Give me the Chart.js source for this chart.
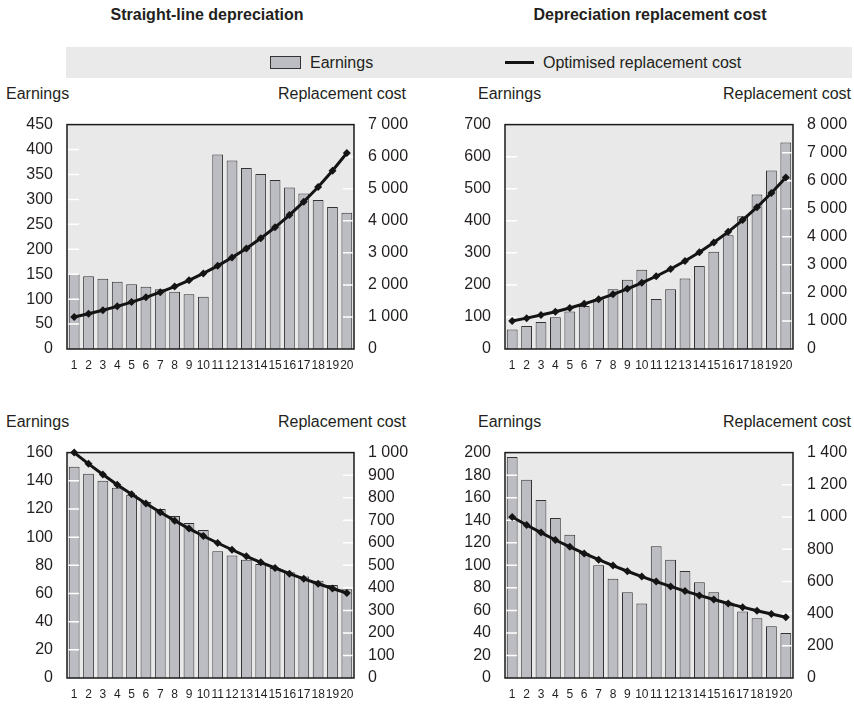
<!DOCTYPE html>
<html>
<head>
<meta charset="utf-8">
<script src="https://cdn.jsdelivr.net/npm/chart.js@4.4.0/dist/chart.umd.min.js"></script>
<style>
  body { margin:0; width:854px; height:705px; position:relative; background:#fff;
         font-family:"Liberation Sans", Arial, sans-serif; color:#231f20; overflow:hidden; }
  .abs { position:absolute; white-space:nowrap; }
  .title { font-weight:bold; font-size:16px; line-height:18px; text-align:center; top:6px; }
  .txt { font-size:16px; line-height:18px; }
  canvas { position:absolute; }
</style>
</head>
<body>
<div class="abs title" style="left:0;width:414px">Straight-line depreciation</div>
<div class="abs title" style="left:430px;width:440px">Depreciation replacement cost</div>

<div class="abs" style="left:66px;top:47px;width:786px;height:31px;background:#e9eae9"></div>
<div class="abs" style="left:270px;top:56px;width:29px;height:11px;background:#bcbdc3;border:1px solid #333"></div>
<div class="abs txt" style="left:310px;top:54px">Earnings</div>
<div class="abs" style="left:505px;top:61px;width:29px;height:3px;background:#141414"></div>
<div class="abs txt" style="left:543px;top:54px">Optimised replacement cost</div>

<div class="abs txt" style="left:6px;top:85px">Earnings</div>
<div class="abs txt" style="right:448px;top:85px">Replacement cost</div>
<div class="abs txt" style="left:478px;top:85px">Earnings</div>
<div class="abs txt" style="right:3px;top:85px">Replacement cost</div>
<div class="abs txt" style="left:6px;top:413px">Earnings</div>
<div class="abs txt" style="right:448px;top:413px">Replacement cost</div>
<div class="abs txt" style="left:478px;top:413px">Earnings</div>
<div class="abs txt" style="right:3px;top:413px">Replacement cost</div>

<canvas id="c1" width="430" height="277" style="left:0;top:101px"></canvas>
<canvas id="c2" width="424" height="277" style="left:430px;top:101px"></canvas>
<canvas id="c3" width="430" height="278" style="left:0;top:429px"></canvas>
<canvas id="c4" width="424" height="278" style="left:430px;top:429px"></canvas>

<script>
// years on the x axis
const years = ['1','2','3','4','5','6','7','8','9','10','11','12','13','14','15','16','17','18','19','20'];

// optimised replacement cost (right axis)
const costRising  = [1000, 1100, 1210, 1331, 1464, 1611, 1772, 1949, 2144, 2358, 2594, 2853, 3138, 3452, 3797, 4177, 4595, 5054, 5560, 6116];
const costFalling = [1000, 950, 903, 857, 815, 774, 735, 698, 663, 630, 599, 569, 540, 513, 488, 463, 440, 418, 397, 377];

// earnings (left axis)
const earningsSlRising   = [150, 146, 141, 135, 130, 125, 120, 115, 110, 105, 390, 378, 363, 351, 339, 324, 312, 299, 285, 273];
const earningsDrcRising  = [61, 72, 84, 99, 117, 134, 155, 186, 216, 247, 156, 186, 220, 259, 303, 355, 414, 482, 557, 644];
const earningsSlFalling  = [150, 145, 140, 135, 130, 125, 120, 115, 110, 105, 90, 87, 84, 81, 78, 75, 72, 69, 66, 63];
const earningsDrcFalling = [196, 176, 158, 142, 127, 111, 100, 88, 76, 66, 117, 105, 95, 85, 76, 67, 59, 53, 46, 40];

const FONT = '"Liberation Sans", Arial, sans-serif';
const INK = '#231f20';

function spaced(v) {
  return String(v).replace(/\B(?=(\d{3})+(?!\d))/g, ' ');
}

// plot background, white inner tick marks and the black frame
const framePlugin = {
  id: 'frame',
  beforeDatasetsDraw(chart) {
    const {ctx, chartArea: a} = chart;
    ctx.save();
    ctx.fillStyle = '#e8e9e8';
    ctx.fillRect(a.left, a.top, a.right - a.left, a.bottom - a.top);
    ctx.restore();
  },
  afterDatasetDraw(chart, args) {
    if (args.index !== 0) return;
    const {ctx, chartArea: a, scales} = chart;
    ctx.save();
    ctx.strokeStyle = '#ffffff';
    ctx.lineWidth = 1.5;
    ctx.beginPath();
    scales.y.ticks.slice(1, -1).forEach(t => {
      const y = scales.y.getPixelForValue(t.value);
      ctx.moveTo(a.left, y); ctx.lineTo(a.left + 12, y);
    });
    scales.y1.ticks.slice(1, -1).forEach(t => {
      const y = scales.y1.getPixelForValue(t.value);
      ctx.moveTo(a.right - 11, y); ctx.lineTo(a.right, y);
    });
    ctx.stroke();
    ctx.strokeStyle = '#1a1a1a';
    ctx.lineWidth = 1.5;
    ctx.strokeRect(a.left, a.top, a.right - a.left, a.bottom - a.top);
    ctx.restore();
  }
};

function makePanel(id, earnings, cost, leftMax, leftStep, rightMax, rightStep, leftW, rightW) {
  return new Chart(document.getElementById(id), {
    type: 'bar',
    data: {
      labels: years,
      datasets: [
        {
          type: 'bar',
          label: 'Earnings',
          data: earnings,
          yAxisID: 'y',
          backgroundColor: '#bcbdc3',
          borderColor: '#333333',
          borderWidth: 1,
          categoryPercentage: 1,
          barPercentage: 0.75,
          order: 1
        },
        {
          type: 'line',
          label: 'Optimised replacement cost',
          data: cost,
          yAxisID: 'y1',
          borderColor: '#141414',
          borderWidth: 3,
          pointStyle: 'rectRot',
          pointRadius: 4,
          pointBackgroundColor: '#141414',
          pointBorderWidth: 0,
          tension: 0,
          clip: false,
          order: 0
        }
      ]
    },
    options: {
      responsive: false,
      animation: false,
      layout: { padding: 0 },
      plugins: { legend: { display: false }, tooltip: { enabled: false } },
      scales: {
        x: {
          grid: { display: false, drawTicks: false },
          border: { display: false },
          ticks: { autoSkip: false, maxRotation: 0, padding: 9, color: INK, font: { family: FONT, size: 12 } },
          afterFit: s => { s.height = 29; }
        },
        y: {
          position: 'left',
          min: 0, max: leftMax,
          grid: { display: false, drawTicks: false },
          border: { display: false },
          ticks: { autoSkip: false, stepSize: leftStep, padding: 14, color: INK, font: { family: FONT, size: 16 } },
          afterFit: s => { s.width = leftW; }
        },
        y1: {
          position: 'right',
          min: 0, max: rightMax,
          grid: { display: false, drawTicks: false },
          border: { display: false },
          ticks: { autoSkip: false, stepSize: rightStep, padding: 14, color: INK, font: { family: FONT, size: 16 },
                   callback: v => spaced(v) },
          afterFit: s => { s.width = rightW; }
        }
      }
    },
    plugins: [framePlugin]
  });
}

makePanel('c1', earningsSlRising, costRising, 450, 50, 7000, 1000, 67, 76);
makePanel('c2', earningsDrcRising, costRising, 700, 100, 8000, 1000, 75, 61);
makePanel('c3', earningsSlFalling, costFalling, 160, 20, 1000, 100, 67, 76);
makePanel('c4', earningsDrcFalling, costFalling, 200, 20, 1400, 200, 75, 61);
</script>
</body>
</html>
